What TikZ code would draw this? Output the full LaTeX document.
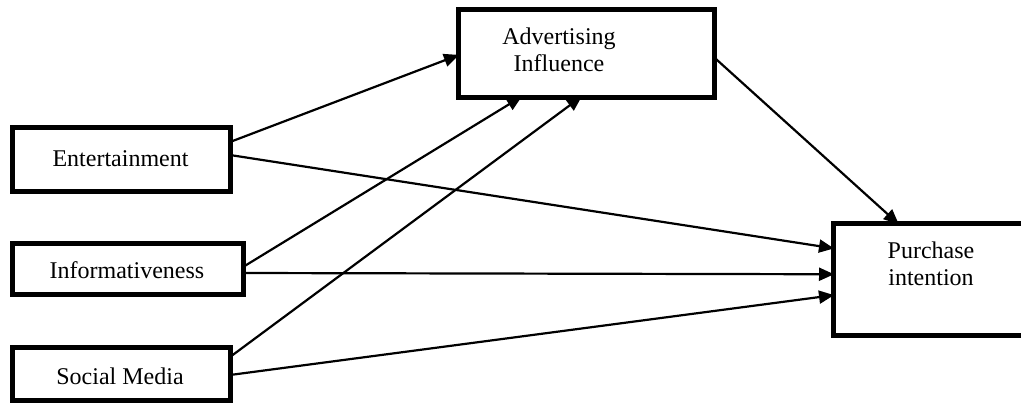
\documentclass[tikz,border=0pt]{standalone}
\usepackage{fontspec}
\setmainfont{Liberation Serif}
\usetikzlibrary{arrows.meta}
\begin{document}
\begin{tikzpicture}[x=1pt,y=-1pt,
  box/.style={draw=black,line width=5pt,rectangle,inner sep=0pt,outer sep=0pt},
  lbl/.style={font=\fontsize{24}{27}\selectfont,align=center,inner sep=0pt},
  conn/.style={line width=2.2pt,-{Triangle[length=15pt,width=13pt]},shorten >=-1pt}]
\useasboundingbox (0,0) rectangle (1021,402);
\clip (0,0) rectangle (1021,402);
\fill[white] (0,0) rectangle (1021,402);
% boxes
\node[box,minimum width=218pt,minimum height=64pt] (ent) at (121,159) {};
\node[box,minimum width=231pt,minimum height=51pt] (inf) at (127.5,268.5) {};
\node[box,minimum width=218pt,minimum height=53pt] (soc) at (121,373.5) {};
\node[box,minimum width=256pt,minimum height=87.5pt] (adv) at (586,53.25) {};
\node[box,minimum width=210pt,minimum height=111.5pt] (pur) at (938,279.25) {};
% texts
\node[lbl] (tent) at (120.5,159) {Entertainment};
\node[lbl] (tinf) at (127,270) {Informativeness};
\node[lbl] (tsoc) at (120,376) {Social Media};
\node[lbl] (tadv) at (559,50) {Advertising\\Influence};
\node[lbl] (tpur) at (931,264) {Purchase\\intention};
% connectors
\draw[conn] ([yshift=17pt]ent.east) -- ([yshift=-2pt]adv.west);
\draw[conn] ([yshift=4pt]ent.east) -- ([yshift=31pt]pur.west);
\draw[conn] ([yshift=1.5pt]inf.east) -- ([xshift=-65pt]adv.south);
\draw[conn] ([yshift=-4.5pt]inf.east) -- ([yshift=5pt]pur.west);
\draw[conn] ([yshift=16.5pt]soc.east) -- ([xshift=-5pt]adv.south);
\draw[conn] ([yshift=-1.5pt]soc.east) -- ([yshift=-16pt]pur.west);
\draw[conn] ([yshift=-4pt]adv.east) -- ([xshift=-40pt]pur.north);
\end{tikzpicture}
\end{document}
